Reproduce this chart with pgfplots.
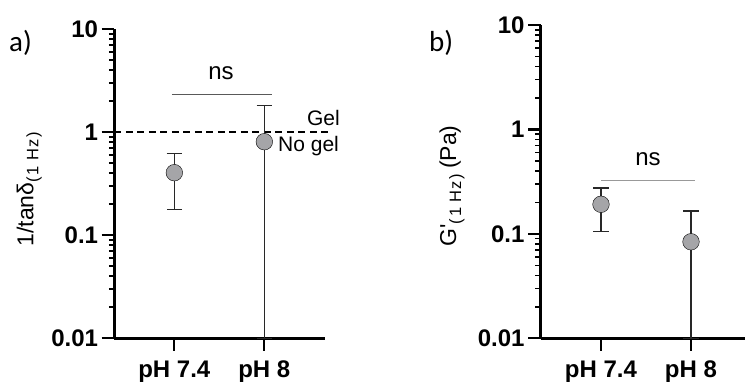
\documentclass[border=0pt]{standalone}
\usepackage{pgfplots}
\pgfplotsset{compat=1.18}
\usepackage{fontspec}
\setmainfont{Liberation Sans}
\newfontfamily\panelfont{Carlito}
\definecolor{markgray}{RGB}{165,165,168}
\definecolor{barblack}{RGB}{40,40,40}

\pgfplotsset{
  every axis/.append style={
    scale only axis,
    anchor=south west,
    axis x line*=bottom, axis y line*=left,
    axis line style={-, line width=2.5pt, black},
    tick align=outside,
    major tick length=12.7pt, minor tick length=5.5pt,
    major tick style={line width=2.2pt, black},
    minor tick style={line width=1.6pt, black},
    tick label style={font=\fontsize{24}{24}\selectfont\bfseries},
    xticklabel style={yshift=-6pt},
    clip=false,
  },
}

\begin{document}
\begin{tikzpicture}
\path[use as bounding box] (0pt,0pt) rectangle (745pt,-381pt);

% (a) inverse loss tangent at 1 Hz
\begin{axis}[at={(114.3pt,-338.3pt)}, width=210.7pt, height=309.3pt,
  ymode=log, ymin=0.01, ymax=10, xmin=-0.667, xmax=1.674,
  xtick={0,1}, xticklabels={pH 7.4, pH 8},
  ytick={0.01,0.1,1,10}, yticklabels={0.01,0.1,1,10},
  minor ytick={0.02,0.03,0.04,0.05,0.06,0.07,0.08,0.09,
               0.2,0.3,0.4,0.5,0.6,0.7,0.8,0.9,2,3,4,5,6,7,8,9}]
  \addplot[black, line width=2pt, dash pattern=on 7pt off 4.5pt]
    coordinates {(-0.667,1) (1.71,1)};
  \addplot[black!65, line width=1.2pt]
    coordinates {(-0.026,2.33) (1.086,2.33)};
  % mean +/- SD (bars first, means drawn over them)
  \addplot[draw=none, mark=none,
    error bars/y dir=both, error bars/y explicit,
    error bars/error bar style={line width=1.5pt, barblack},
    error bars/error mark options={rotate=90, draw=barblack, line width=1.5pt, mark size=7.8pt}]
    coordinates {
    (0,0.404) += (0,0.219) -= (0,0.226)
    (1,0.807) += (0,1.013) -= (0,0.797)
  };
  \addplot[only marks, mark=*, mark size=8.3pt,
    mark options={fill=markgray, draw=none}]
    coordinates {(0,0.404) (1,0.807)};
\end{axis}

% (b) storage modulus at 1 Hz
\begin{axis}[at={(540.7pt,-338.3pt)}, width=204.3pt, height=313.3pt,
  ymode=log, ymin=0.01, ymax=10, xmin=-0.67, xmax=1.6,
  xtick={0,1}, xticklabels={pH 7.4, pH 8},
  ytick={0.01,0.1,1,10}, yticklabels={0.01,0.1,1,10},
  minor ytick={0.02,0.03,0.04,0.05,0.06,0.07,0.08,0.09,
               0.2,0.3,0.4,0.5,0.6,0.7,0.8,0.9,2,3,4,5,6,7,8,9}]
  \addplot[black!40, line width=1.2pt]
    coordinates {(0,0.323) (1.044,0.323)};
  \addplot[draw=none, mark=none,
    error bars/y dir=both, error bars/y explicit,
    error bars/error bar style={line width=1.5pt, barblack},
    error bars/error mark options={rotate=90, draw=barblack, line width=1.5pt, mark size=7.8pt}]
    coordinates {
    (0,0.192) += (0,0.084) -= (0,0.087)
    (1,0.084) += (0,0.082) -= (0,0.074)
  };
  \addplot[only marks, mark=*, mark size=8.3pt,
    mark options={fill=markgray, draw=none}]
    coordinates {(0,0.192) (1,0.084)};
\end{axis}

% axis titles
\node[rotate=90, anchor=base west, inner sep=0pt, font=\fontsize{23}{23}\selectfont]
  at (33.3pt,-246.7pt)
  {1/tanδ\raisebox{-5pt}{\fontsize{16.5}{16.5}\selectfont(\kern2pt1\kern5pt H\kern1pt z\kern2pt)}};
\node[rotate=90, anchor=base west, inner sep=0pt, font=\fontsize{23}{23}\selectfont]
  at (456pt,-246.7pt)
  {G\textquotesingle\raisebox{-5pt}{\fontsize{16.5}{16.5}\selectfont(\kern2pt1\kern5pt H\kern1pt z\kern2pt)}\kern5pt(Pa)};

% panel letters
\node[anchor=base west, inner sep=0pt, font=\panelfont\fontsize{29}{29}\selectfont] at (9pt,-51pt) {a)};
\node[anchor=base west, inner sep=0pt, font=\panelfont\fontsize{29}{29}\selectfont] at (429pt,-51pt) {b)};

% significance and gel threshold annotations
\node[anchor=base, inner sep=0pt, font=\fontsize{24}{24}\selectfont] at (221pt,-79pt) {ns};
\node[anchor=base, inner sep=0pt, font=\fontsize{24}{24}\selectfont] at (648pt,-165pt) {ns};
\node[anchor=base east, inner sep=0pt, font=\fontsize{21}{21}\selectfont] at (340pt,-125pt) {Gel};
\node[anchor=base west, inner sep=0pt, font=\fontsize{21}{21}\selectfont] at (278pt,-151.7pt) {No gel};
\end{tikzpicture}
\end{document}
